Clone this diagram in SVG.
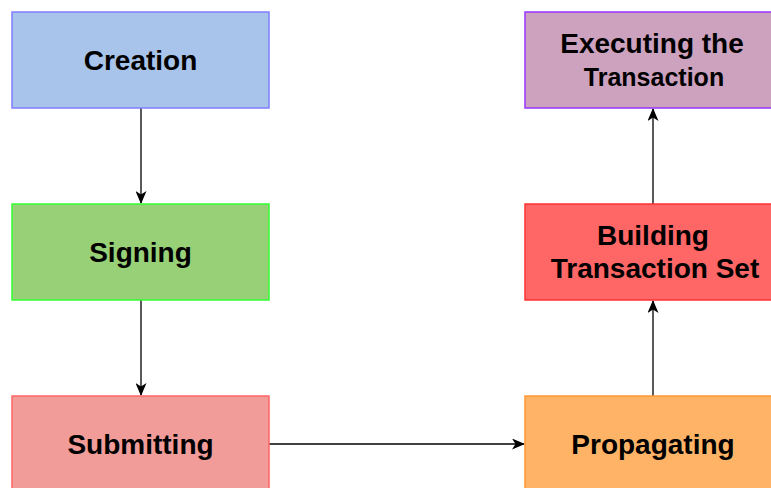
<svg xmlns="http://www.w3.org/2000/svg" width="771" height="488" viewBox="0 0 771 488">
<style>
.box{stroke-width:1.5}
.lbl{font-family:"Liberation Sans",Arial,sans-serif;font-weight:bold;font-size:28px;fill:#000;text-anchor:middle}
.edge{stroke:#000;stroke-width:1.3;fill:none}
</style>
<defs>
<marker id="arr" viewBox="0 0 13 11" refX="12" refY="5.5" markerWidth="13" markerHeight="11" markerUnits="userSpaceOnUse" orient="auto">
<path d="M0,0 L13,5.5 L0,11 L3.5,5.5 Z" fill="#000"/>
</marker>
</defs>
<rect width="771" height="488" fill="#fff"/>
<g id="edges">
<line class="edge" x1="141" y1="108" x2="141" y2="203" marker-end="url(#arr)"/>
<line class="edge" x1="141" y1="300" x2="141" y2="395" marker-end="url(#arr)"/>
<line class="edge" x1="269" y1="444" x2="524" y2="444" marker-end="url(#arr)"/>
<line class="edge" x1="653" y1="396" x2="653" y2="301" marker-end="url(#arr)"/>
<line class="edge" x1="653" y1="204" x2="653" y2="109" marker-end="url(#arr)"/>
</g>
<g id="creation">
<rect class="box" x="12" y="12" width="257" height="96" fill="#A9C4EB" stroke="#7F7FFF"/>
<text class="lbl" x="140.5" y="70">Creation</text>
</g>
<g id="signing">
<rect class="box" x="12" y="204" width="257" height="96" fill="#97D077" stroke="#33FF33"/>
<text class="lbl" x="140.5" y="262">Signing</text>
</g>
<g id="submitting">
<rect class="box" x="12" y="396" width="257" height="96" fill="#F19C99" stroke="#FF6666"/>
<text class="lbl" x="140.5" y="454">Submitting</text>
</g>
<g id="propagating">
<rect class="box" x="525" y="396" width="257" height="96" fill="#FFB366" stroke="#FF9933"/>
<text class="lbl" x="653" y="454">Propagating</text>
</g>
<g id="building">
<rect class="box" x="525" y="204" width="257" height="96" fill="#FF6666" stroke="#FF3333"/>
<text class="lbl" x="653" y="245">Building</text>
<text class="lbl" x="655" y="278">Transaction Set</text>
</g>
<g id="executing">
<rect class="box" x="525" y="12" width="257" height="96" fill="#CDA2BE" stroke="#9933FF"/>
<text class="lbl" x="652" y="53">Executing the</text>
<text class="lbl" x="654" y="86" style="font-size:25px">Transaction</text>
</g>
</svg>
